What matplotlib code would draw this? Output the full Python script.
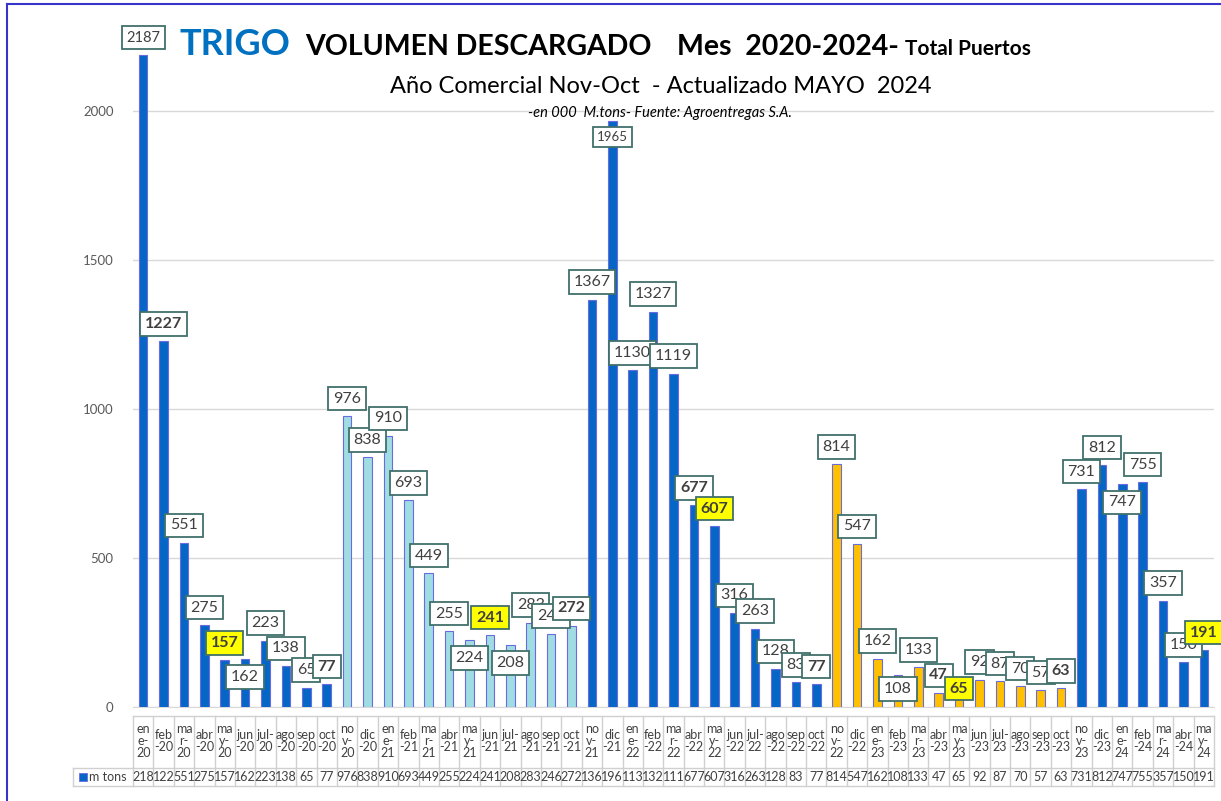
import matplotlib.pyplot as plt
import matplotlib.transforms as mtransforms
from matplotlib.lines import Line2D
from matplotlib.patches import Rectangle

plt.rcParams['font.family'] = ['Lato', 'DejaVu Sans']

# datos: volumen descargado, miles de toneladas
months = ["ene", "feb", "mar", "abr", "may", "jun",
          "jul", "ago", "sep", "oct", "nov", "dic"]
categories = [f"{months[(k) % 12]}-{20 + k // 12}" for k in range(53)]
values = [2187, 1227, 551, 275, 157, 162, 223, 138, 65, 77,
          976, 838, 910, 693, 449, 255, 224, 241, 208, 283, 246, 272,
          1367, 1965, 1130, 1327, 1119, 677, 607, 316, 263, 128, 83, 77,
          814, 547, 162, 108, 133, 47, 65, 92, 87, 70, 57, 63,
          731, 812, 747, 755, 357, 150, 191]
# campañas (nov-oct): cantidad de meses y color
segments = [(10, "#0566C6"), (12, "#A0DDE2"), (12, "#0566C6"),
            (12, "#FFC000"), (7, "#0566C6")]
bold_idx = [1, 4, 9, 17, 21, 27, 28, 33, 39, 40, 45, 52]
yellow_idx = [4, 17, 28, 40, 52]
below_idx = {5: -18, 16: -18, 18: -18, 23: -16, 37: -14, 40: -1, 48: -18}

colors = []
for n, c in segments:
    colors += [c] * n

W, H = 1221, 801
fig = plt.figure(figsize=(W / 100, H / 100), dpi=100)


def fx(px):
    return px / W


def fy(py):
    return 1 - py / H


ax = fig.add_axes([fx(133), fy(707), fx(1214) - fx(133), fy(51.4) - fy(707)])
x = list(range(len(values)))
ax.bar(x, values, width=0.42, color=colors, edgecolor="#6B6BE0",
       linewidth=0.8, zorder=3)
ax.set_xlim(-0.5, len(values) - 0.5)
ax.set_ylim(0, 2200)
ax.set_yticks([0, 500, 1000, 1500, 2000])
ax.tick_params(axis="y", length=0, pad=14, labelsize=9.5, labelcolor="#595959")
ax.set_xticks([])
ax.grid(axis="y", color="#D9D9D9", linewidth=1, zorder=0)
for s in ["top", "right", "left"]:
    ax.spines[s].set_visible(False)
ax.spines["bottom"].set_color("#D9D9D9")

# etiquetas de datos
for i, v in enumerate(values):
    dy = below_idx.get(i, 17.5) * 0.72
    fs = 11.5
    if v == 2187:
        fs = 10.5
    elif v == 1965:
        fs = 9.5
    face = "#FFFF00" if i in yellow_idx else "white"
    weight = "bold" if i in bold_idx else "normal"
    ax.annotate(str(v), xy=(i, v), xytext=(0, dy), textcoords="offset points",
                ha="center", va="center", fontsize=fs, fontweight=weight,
                color="#404040", zorder=5, annotation_clip=False,
                bbox=dict(boxstyle="square,pad=0.3", fc=face,
                          ec="#41706A", lw=1.3))

# tabla de datos
tr = mtransforms.blended_transform_factory(ax.transData, fig.transFigure)


def wrap_cat(c):
    m, y = c.split("-")
    if m in ("ene", "mar", "may", "nov"):
        return f"{m[:2]}\n{m[2]}-\n{y}"
    if m == "jul":
        return f"jul-\n{y}"
    return f"{m}\n-{y}"


grid_c = "#D0D0D0"
y_top, y_mid, y_bot = 716, 768, 786
for i, (c, v) in enumerate(zip(categories, values)):
    fig.text(i, fy(741), wrap_cat(c), transform=tr, ha="center",
             va="center", fontsize=9, color="#404040", linespacing=1.0)
    fig.text(i, fy(777), str(v)[:3], transform=tr, ha="center",
             va="center", fontsize=9, color="#404040")
for k in range(len(values) + 1):
    fig.add_artist(Line2D([k - 0.5, k - 0.5], [fy(y_top), fy(y_bot)],
                          transform=tr, color=grid_c, lw=1))
for yy in (y_top, y_mid, y_bot):
    fig.add_artist(Line2D([-0.5, len(values) - 0.5], [fy(yy), fy(yy)],
                          transform=tr, color=grid_c, lw=1))
fig.add_artist(Line2D([fx(73), fx(133)], [fy(y_mid), fy(y_mid)], color=grid_c, lw=1))
fig.add_artist(Line2D([fx(73), fx(133)], [fy(y_bot), fy(y_bot)], color=grid_c, lw=1))
fig.add_artist(Line2D([fx(73), fx(73)], [fy(y_mid), fy(y_bot)], color=grid_c, lw=1))
fig.add_artist(Rectangle((fx(79), fy(781)), fx(8), fy(773) - fy(781),
                         fc="#0566C6", ec="#6B6BE0", lw=0.6))
fig.text(fx(89), fy(777), "m tons", ha="left", va="center", fontsize=9,
         color="#404040")

# títulos: piezas encadenadas una tras otra
renderer = fig.canvas.get_renderer()
pieces = [("TRIGO", 26, "#0070C0", 0), ("VOLUMEN DESCARGADO", 20.5, "black", 14),
          ("Mes  2020-2024-", 20.5, "black", 26), ("Total Puertos", 15, "black", 6)]
xpos = 180
for txt, fs, col, gap in pieces:
    xpos += gap
    t = fig.text(fx(xpos), fy(55), txt, ha="left", va="baseline", fontsize=fs,
                 fontweight="bold", color=col)
    xpos = t.get_window_extent(renderer).x1
fig.text(fx(661), fy(93), "Año Comercial Nov-Oct  - Actualizado MAYO  2024",
         ha="center", va="baseline", fontsize=17, color="black")
fig.text(fx(660), fy(117), "-en 000  M.tons- Fuente: Agroentregas S.A.",
         ha="center", va="baseline", fontsize=10.5, style="italic", color="black")

# borde
fig.add_artist(Line2D([fx(7), fx(7)], [fy(4), 0], color="#3535CC", lw=1.5))
fig.add_artist(Line2D([fx(7), 1], [fy(4), fy(4)], color="#3535CC", lw=1.5))

fig.savefig("out.png", dpi=100)
